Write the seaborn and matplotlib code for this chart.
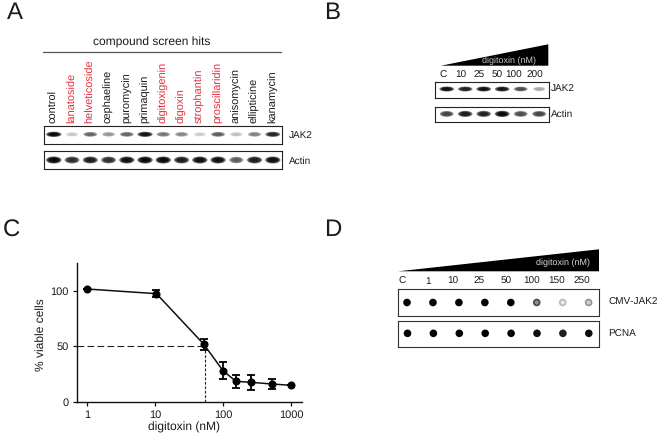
import numpy as np
import seaborn as sns
import matplotlib.pyplot as plt
from matplotlib.path import Path
from matplotlib.patches import Polygon
from matplotlib.transforms import Affine2D

W, H = 661, 438

# panel A
compounds = ['control', 'lanatoside', 'helveticoside', 'cephaeline', 'puromycin', 'primaquin',
             'digitoxigenin', 'digoxin', 'strophantin', 'proscillaridin', 'anisomycin',
             'ellipticine', 'kanamycin']
red_hits = ['lanatoside', 'helveticoside', 'digitoxigenin', 'digoxin', 'strophantin', 'proscillaridin']
a_jak2 = [1.0, 0.22, 0.62, 0.42, 0.62, 0.95, 0.55, 0.48, 0.2, 0.65, 0.25, 0.5, 0.88]
a_actin = [1.0, 0.85, 0.92, 0.85, 0.97, 1.0, 1.0, 0.92, 0.97, 0.97, 0.65, 0.92, 0.97]

# panel B
b_labels = ['C', '10', '25', '50', '100', '200']
b_jak2 = [0.97, 0.9, 0.97, 0.95, 0.72, 0.35]
b_actin = [0.75, 0.92, 0.9, 1.0, 0.72, 0.75]

# panel C
dose = [1, 10.5, 52, 100, 155, 260, 520, 1000]
viable = [101.8, 97.6, 52, 28, 18.4, 17.5, 16, 14.8]
viable_err = [0, 3, 5, 7.5, 6, 6.5, 4.5, 0]
ic50 = 55

# panel D
d_labels = ['C', '1', '10', '25', '50', '100', '150', '250']
d_jak2 = [1.0, 1.0, 1.0, 1.0, 1.0, 0.7, 0.28, 0.42]
d_jak2_core = [1.0, 1.0, 1.0, 1.0, 1.0, 0.45, 0.08, 0.18]
d_pcna = [1.0, 1.0, 1.0, 1.0, 1.0, 0.95, 0.88, 0.95]

sns.set_theme(style='white')
plt.rcParams['font.family'] = ['Liberation Sans', 'DejaVu Sans']
plt.rcParams['text.hinting'] = 'no_hinting'
plt.rcParams['text.hinting_factor'] = 1

fig = plt.figure(figsize=(W / 100, H / 100), dpi=100)
TXT = '#1a1a1a'


def px_axes(x0, y0, x1, y1):
    return fig.add_axes([x0 / W, 1 - y1 / H, (x1 - x0) / W, (y1 - y0) / H])


def px_text(x, y, s, size=7.5, ha='center', va='center', **kw):
    kw.setdefault('color', TXT)
    fig.text(x / W, 1 - y / H, s, fontsize=size, ha=ha, va=va, **kw)


def frame(ax, color):
    ax.set_xticks([])
    ax.set_yticks([])
    ax.set_xlabel('')
    ax.set_ylabel('')
    for sp in ax.spines.values():
        sp.set_visible(True)
        sp.set_color(color)
        sp.set_linewidth(0.8)


def blot(box, first, step, values, band_w, flat=0.3, yrel=0.5):
    # one strip of a western blot, lanes are numbered 0..n-1
    x0, y0, x1, y1 = box
    ax = px_axes(x0, y0, x1, y1)
    lanes = np.arange(len(values))
    ax.set_xlim((x0 - first) / step, (x1 - first) / step)
    ax.set_ylim(0, 1)
    marker = Path.unit_circle().transformed(Affine2D().scale(1, flat))
    for k in [1.1, 0.92, 0.74, 0.56]:
        size = (band_w * k * np.sqrt(np.array(values) * 0.5 + 0.5) * 0.72) ** 2
        sns.scatterplot(x=lanes, y=[yrel] * len(lanes), hue=values, palette='gray_r', hue_norm=(0, 1),
                        s=size, marker=marker, alpha=0.55, linewidth=0, legend=False, ax=ax)
    frame(ax, '#222222')
    return ax


def dots(box, first, step, values, core=None, yrel=0.5):
    x0, y0, x1, y1 = box
    ax = px_axes(x0, y0, x1, y1)
    lanes = np.arange(len(values))
    ax.set_xlim((x0 - first) / step, (x1 - first) / step)
    ax.set_ylim(0, 1)
    sns.scatterplot(x=lanes, y=[yrel] * len(lanes), hue=values, palette='gray_r', hue_norm=(0, 1),
                    s=30, linewidth=0, legend=False, ax=ax)
    if core is not None:
        sns.scatterplot(x=lanes, y=[yrel] * len(lanes), hue=core, palette='gray_r', hue_norm=(0, 1),
                        s=9, linewidth=0, legend=False, ax=ax)
    frame(ax, '#333333')
    return ax


def wedge(x0, x1, top, bottom):
    fig.add_artist(Polygon([(x0 / W, 1 - bottom / H), (x1 / W, 1 - top / H), (x1 / W, 1 - bottom / H)],
                           closed=True, facecolor='black', edgecolor='none', transform=fig.transFigure))


# A
px_text(7, 13, 'A', size=17.5, ha='left')
px_text(152, 42, 'compound screen hits', size=8.5)
fig.add_artist(plt.Line2D([43 / W, 281 / W], [1 - 52 / H] * 2, color='#555555', lw=0.9))
for i, name in enumerate(compounds):
    px_text(53.8 + i * 18.25, 123, name, size=7.7, rotation=90, va='bottom',
            color='#e0303c' if name in red_hits else TXT)
blot((44.3, 125.7, 281.7, 143.7), 53.8, 18.25, a_jak2, 14, flat=0.34, yrel=0.52)
blot((44.3, 150.7, 281.7, 169.3), 53.8, 18.25, a_actin, 14, flat=0.46, yrel=0.5)
px_text(289, 136.5, 'JAK2', size=7.4, ha='left')
px_text(289, 161.5, 'Actin', size=7.4, ha='left')

# B
px_text(324, 13, 'B', size=17.5, ha='left')
wedge(441, 548.3, 44.3, 65.7)
px_text(509, 60.5, 'digitoxin (nM)', size=6.8, color='#c8c8c8')
for x, s in zip([443.3, 460.7, 479.3, 496.7, 514, 535], b_labels):
    px_text(x, 75, s, size=7.4)
blot((434.7, 82.3, 549, 98.3), 446.7, 18.5, b_jak2, 13.5, flat=0.34, yrel=0.58)
blot((434.7, 106.7, 549, 121.7), 446.7, 18.5, b_actin, 13.5, flat=0.42, yrel=0.52)
px_text(551, 89.7, 'JAK2', size=7.4, ha='left')
px_text(551, 114.7, 'Actin', size=7.4, ha='left')

# C
px_text(3, 231, 'C', size=17.5, ha='left')
ax = px_axes(76.7, 263, 301.7, 401.7)
ax.set_xscale('log')
ax.set_xlim(0.706, 1436)
ax.set_ylim(0, 125.3)
ax.plot([0.706, ic50], [50, 50], color='#222222', lw=0.8, dashes=(6, 3))
ax.plot([ic50, ic50], [0, 50], color='#222222', lw=0.8, dashes=(2.5, 1.5))
sns.lineplot(x=dose, y=viable, color='#111111', lw=1.1, errorbar=None, ax=ax)
ax.errorbar(dose, viable, yerr=viable_err, fmt='o', ms=4.8, color='#000000', ecolor='#000000',
            elinewidth=1.3, capsize=3.2, capthick=1.3)
ax.set_xticks([1, 10, 100, 1000])
ax.set_xticklabels(['1', '10', '100', '1000'], color=TXT, fontsize=7.6)
ax.minorticks_off()
ax.set_yticks([0, 50, 100])
ax.set_yticklabels(['0', '50', '100'], color=TXT, fontsize=7.6)
ax.tick_params(axis='both', length=3, width=0.9, color='#111111', pad=3, bottom=True, left=True)
sns.despine(ax=ax)
for side in ['left', 'bottom']:
    ax.spines[side].set_color('#111111')
    ax.spines[side].set_linewidth(1.0)
px_text(41, 335, '% viable cells', size=8.5, rotation=90)
px_text(184, 427.7, 'digitoxin (nM)', size=8.5)

# D
px_text(324, 230, 'D', size=17.5, ha='left')
wedge(398.3, 599, 249.3, 271.3)
px_text(562.5, 262.7, 'digitoxin (nM)', size=6.8, color='#d8d8d8')
for x, s in zip([402.3, 427.7, 453, 479, 505.7, 531.7, 556.7, 582.3], d_labels):
    px_text(x, 281.3, s, size=7.4)
dots((398.3, 289.3, 599, 315.7), 407, 25.95, d_jak2, core=d_jak2_core, yrel=0.5)
dots((398.3, 320.7, 599, 347), 407.5, 25.9, d_pcna, yrel=0.52)
px_text(608.3, 302.7, 'CMV-JAK2', size=7.4, ha='left')
px_text(608.3, 334.7, 'PCNA', size=7.4, ha='left')

fig.savefig('out.png', dpi=100)
plt.close(fig)
